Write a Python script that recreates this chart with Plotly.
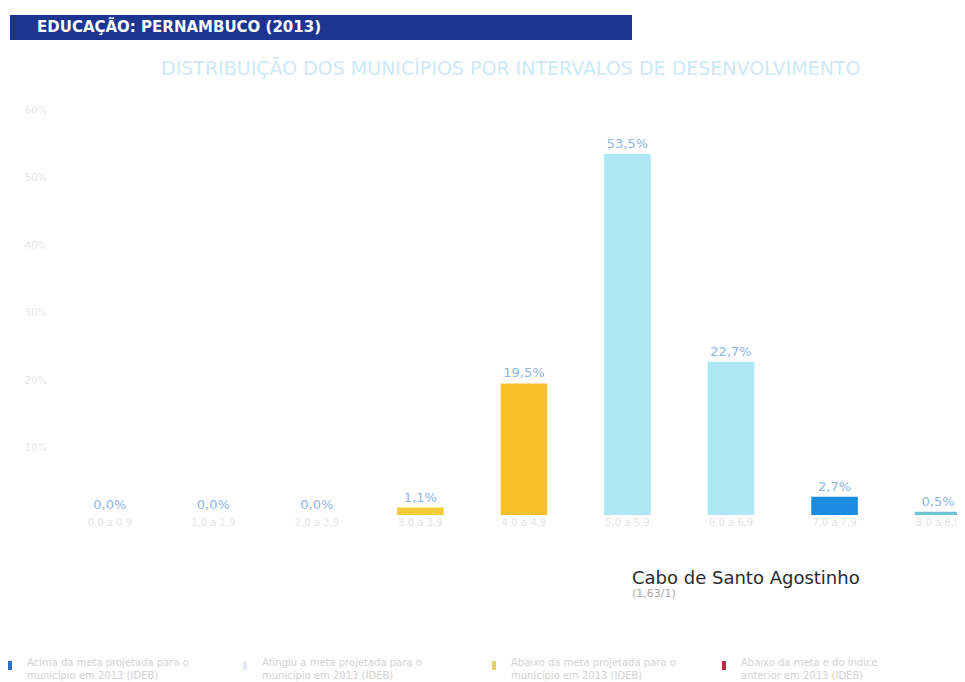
import plotly.graph_objects as go

categories = ["0,0 a 0,9", "1,0 a 1,9", "2,0 a 2,9", "3,0 a 3,9", "4,0 a 4,9",
              "5,0 a 5,9", "6,0 a 6,9", "7,0 a 7,9", "8,0 a 8,9"]
values = [0.0, 0.0, 0.0, 1.1, 19.5, 53.5, 22.7, 2.7, 0.5]
bar_colors = ["#f3c623", "#f3c623", "#f3c623", "#f4cc36", "#f6c12b",
              "#ade6f5", "#ade6f5", "#1d8be0", "#72c3d6"]
y_ticks = [10, 20, 30, 40, 50, 60]

legend_labels = [
    ("#2a6fc9", "Acima da meta projetada para o<br>município em 2013 (IDEB)"),
    ("#e6e9f7", "Atingiu a meta projetada para o<br>município em 2013 (IDEB)"),
    ("#e3cf6e", "Abaixo da meta projetada para o<br>município em 2013 (IDEB)"),
    ("#c0304a", "Abaixo da meta e do índice<br>anterior em 2013 (IDEB)"),
]

# page offset (browser body margin) compensation
OFF = 8
W, H = 965 - OFF, 682 - OFF
L, T, B = 58 - OFF, 100 - OFF, 515 - OFF
PW, PH = W - L, B - T


def dx(px):
    return (px - OFF - L) / PW


def dy(py):
    return (B - (py - OFF)) / PH


fig = go.Figure()
fig.add_trace(go.Bar(
    x=list(range(len(categories))),
    y=values,
    width=0.45,
    marker=dict(color=bar_colors, line=dict(width=0)),
    text=[f"{v:.1f}%".replace(".", ",") for v in values],
    textposition="outside",
    textfont=dict(color="#8db6e6", size=13, family="DejaVu Sans"),
    cliponaxis=False,
    hoverinfo="skip",
))

fig.update_layout(
    width=W, height=H,
    margin=dict(l=L, r=0, t=T, b=H - B, pad=0),
    paper_bgcolor="white", plot_bgcolor="white",
    showlegend=False,
    font=dict(family="Arial"),
    xaxis=dict(
        range=[-0.5, 8.26],
        tickmode="array",
        tickvals=list(range(len(categories))),
        ticktext=categories,
        tickfont=dict(color="#e4e4e4", size=10, family="DejaVu Sans"),
        showgrid=False, zeroline=False, showline=False,
        ticks="",
    ),
    yaxis=dict(
        range=[0, PH / 6.75],
        tickmode="array",
        tickvals=y_ticks,
        ticktext=[f"{t}%" for t in y_ticks],
        tickfont=dict(color="#e8e8e8", size=10, family="DejaVu Sans"),
        showgrid=False, zeroline=False, showline=False,
        ticklabelstandoff=10,
    ),
)

# title bar
fig.add_shape(type="rect", xref="x domain", yref="y domain",
              x0=dx(10), x1=dx(632), y0=dy(40), y1=dy(15),
              fillcolor="#1b3590", line=dict(width=0), layer="above")
fig.add_annotation(text="<b>EDUCAÇÃO: PERNAMBUCO (2013)</b>",
                   xref="x domain", yref="y domain",
                   x=dx(35), y=dy(27),
                   xanchor="left", yanchor="middle", showarrow=False,
                   font=dict(color="white", size=15, family="DejaVu Sans"))

fig.add_annotation(text="DISTRIBUIÇÃO DOS MUNICÍPIOS POR INTERVALOS DE DESENVOLVIMENTO",
                   xref="x domain", yref="y domain",
                   x=dx(510), y=dy(68),
                   xanchor="center", yanchor="middle", showarrow=False,
                   font=dict(color="#cde9f6", size=19, family="DejaVu Sans"))

fig.add_annotation(text="Cabo de Santo Agostinho",
                   xref="x domain", yref="y domain",
                   x=dx(630), y=dy(577),
                   xanchor="left", yanchor="middle", showarrow=False,
                   font=dict(color="#2a2a2a", size=18, family="DejaVu Sans"))
fig.add_annotation(text="(1,63/1)",
                   xref="x domain", yref="y domain",
                   x=dx(630), y=dy(593),
                   xanchor="left", yanchor="middle", showarrow=False,
                   font=dict(color="#a8a8a8", size=11, family="DejaVu Sans"))

leg_x = [8, 243, 492, 722]
for (col, txt), lx in zip(legend_labels, leg_x):
    fig.add_shape(type="rect", xref="x domain", yref="y domain",
                  x0=dx(lx), x1=dx(lx + 4), y0=dy(670), y1=dy(661),
                  fillcolor=col, line=dict(width=0))
    fig.add_annotation(text=txt, xref="x domain", yref="y domain",
                       x=dx(lx + 17), y=dy(669),
                       xanchor="left", yanchor="middle", align="left",
                       showarrow=False,
                       font=dict(color="#d2d2d2", size=10, family="DejaVu Sans"))

fig.write_html("out.html")
